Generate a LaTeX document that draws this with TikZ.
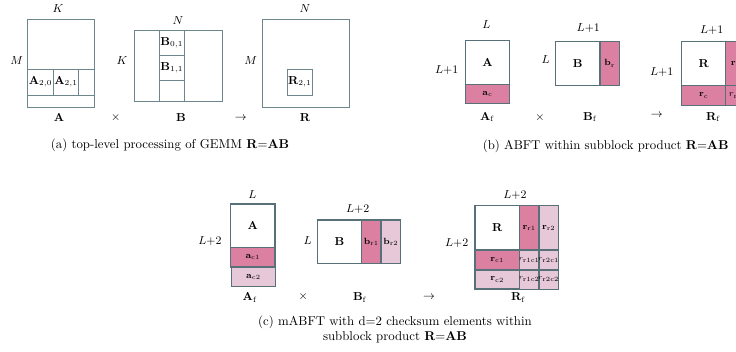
\documentclass[tikz,border=0pt]{standalone}
\usepackage{amssymb}
\usepackage{amsmath}
\definecolor{edge}{HTML}{587078}
\definecolor{edgelight}{HTML}{6C868C}
\definecolor{chkA}{HTML}{DB80A0}
\definecolor{chkB}{HTML}{E6C8D8}
\tikzset{
	blk/.style={draw=edge, line width=0.8pt},
	thinblk/.style={draw=edgelight, line width=0.6pt},
	chkone/.style={blk, fill=chkA},
	chktwo/.style={blk, fill=chkB},
	dimlbl/.style={font=\small, inner sep=1pt},
	cell/.style={font=\small, inner sep=1pt},
	smallcell/.style={font=\scriptsize, inner sep=0.5pt},
	tinycell/.style={font=\fontsize{4.5}{5}\selectfont, inner sep=0pt},
}

\begin{document}
\begin{tikzpicture}[x=0.78pt, y=-0.78pt]
		\useasboundingbox (0,0) rectangle (736,351);
		\clip (0,0) rectangle (736,351);
		% (a) top-level GEMM
		\draw[thinblk] (27.7,19) rectangle (94,107);
		\draw[thinblk] (27.7,69.3) -- (94,69.3);
		\draw[thinblk] (27.7,95) -- (94,95);
		\foreach \x in {53.3, 78.7}
			\draw[thinblk] (\x,69.3) -- (\x,95);
		\node[cell] (a20) at (40.5,82) {$\mathbf{A}_{2,0}$};
		\node[cell] (a21) at (66,82) {$\mathbf{A}_{2,1}$};
		\node[dimlbl] (aK) at (58,8.5) {$K$};
		\node[dimlbl] (aM) at (16.7,61) {$M$};
		\node[cell] (aA) at (59,118) {$\mathbf{A}$};
		\node[dimlbl] (atimes) at (115.7,118) {$\times$};

		\draw[thinblk] (134,30) rectangle (222,101);
		\foreach \x in {159.3, 184.3}
			\draw[thinblk] (\x,30) -- (\x,101);
		\foreach \y in {55, 80}
			\draw[thinblk] (159.3,\y) -- (184.3,\y);
		\node[cell] (b01) at (171.8,42.5) {$\mathbf{B}_{0,1}$};
		\node[cell] (b11) at (171.8,67.5) {$\mathbf{B}_{1,1}$};
		\node[dimlbl] (aN) at (178,20.7) {$N$};
		\node[dimlbl] (aKb) at (122,61) {$K$};
		\node[cell] (aB) at (181,118) {$\mathbf{B}$};
		\node[dimlbl] (ato) at (240.7,118) {$\rightarrow$};

		\draw[thinblk] (262.7,19.3) rectangle (349.3,107.3);
		\draw[thinblk] (287.3,69.3) rectangle (312.3,95);
		\node[cell] (r21) at (299.8,82) {$\mathbf{R}_{2,1}$};
		\node[dimlbl] (aNr) at (305,8.5) {$N$};
		\node[dimlbl] (aMr) at (250.7,61) {$M$};
		\node[cell] (aR) at (305,118) {$\mathbf{R}$};
		\node (capa) at (170,145) {(a) top-level processing of GEMM $\mathbf{R{=}AB}$};

		% (b) ABFT, one checksum
		\draw[blk] (465.7,40.7) rectangle (509.3,84.3);
		\draw[chkone] (465.7,84.3) rectangle (509.3,103.3);
		\node[cell] (bA) at (487.5,62.5) {$\mathbf{A}$};
		\node[smallcell] (bac) at (487.5,93.8) {$\mathbf{a}_\mathrm{c}$};
		\node[dimlbl] (bL) at (486.3,25) {$L$};
		\node[dimlbl] (bL1) at (446.7,70) {$L{+}1$};
		\node[cell] (bAf) at (487.3,117.3) {$\mathbf{A}_\mathrm{f}$};
		\node[dimlbl] (btimes) at (540,117.3) {$\times$};

		\draw[blk] (555.7,41.7) rectangle (600,85.3);
		\draw[chkone] (600,41.7) rectangle (619.3,85.3);
		\node[cell] (bB) at (577.8,63.5) {$\mathbf{B}$};
		\node[smallcell] (bbr) at (609.7,63.5) {$\mathbf{b}_\mathrm{r}$};
		\node[dimlbl] (bL1b) at (588.3,27.7) {$L{+}1$};
		\node[dimlbl] (bLb) at (545.7,60) {$L$};
		\node[cell] (bBf) at (590,117.3) {$\mathbf{B}_\mathrm{f}$};
		\node[dimlbl] (bto) at (656.7,115) {$\rightarrow$};

		\draw[blk] (681.7,41.7) rectangle (725.7,85.7);
		\draw[chkone] (725.7,41.7) rectangle (745,85.7);
		\draw[chkone] (681.7,85.7) rectangle (725.7,105.3);
		\draw[chkone] (725.7,85.7) rectangle (745,105.3);
		\node[cell] (bR) at (703.7,63.7) {$\mathbf{R}$};
		\node[smallcell] (brr) at (735.3,63.7) {$\mathbf{r}_\mathrm{r}$};
		\node[smallcell] (brc) at (703.7,95.5) {$\mathbf{r}_\mathrm{c}$};
		\node[smallcell] (brrc) at (735.3,95.5) {$r_\mathrm{rc}$};
		\node[dimlbl] (bL1r) at (711.7,30) {$L{+}1$};
		\node[dimlbl] (bL1l) at (661.7,71.7) {$L{+}1$};
		\node[cell] (bRf) at (713.3,117.3) {$\mathbf{R}_\mathrm{f}$};
		\node (capb) at (605.7,146.7) {(b) ABFT within subblock product $\mathbf{R{=}AB}$};

		% (c) mABFT, d=2 checksums
		\draw[blk] (230.7,204) rectangle (275,247.7);
		\draw[chkone] (230.7,247.7) rectangle (275,267);
		\draw[chktwo] (231.3,267) rectangle (275.7,286.7);
		\node[cell] (cA) at (252.8,225.8) {$\mathbf{A}$};
		\node[smallcell] (cac1) at (252.8,257.3) {$\mathbf{a}_\mathrm{c1}$};
		\node[smallcell] (cac2) at (253.5,276.8) {$\mathbf{a}_\mathrm{c2}$};
		\node[dimlbl] (cL) at (252.3,195) {$L$};
		\node[dimlbl] (cL2) at (210,241) {$L{+}2$};
		\node[cell] (cAf) at (250,297.7) {$\mathbf{A}_\mathrm{f}$};
		\node[dimlbl] (ctimes) at (303.3,297) {$\times$};

		\draw[blk] (317.3,220) rectangle (361.7,263.3);
		\draw[chkone] (361.7,220) rectangle (381,263.3);
		\draw[chktwo] (381,220) rectangle (400.7,263.3);
		\node[cell] (cB) at (339.5,241.6) {$\mathbf{B}$};
		\node[smallcell] (cbr1) at (371.3,241.6) {$\mathbf{b}_\mathrm{r1}$};
		\node[smallcell] (cbr2) at (390.8,241.6) {$\mathbf{b}_\mathrm{r2}$};
		\node[dimlbl] (cL2b) at (357.7,209.3) {$L{+}2$};
		\node[dimlbl] (cLb) at (307.7,241) {$L$};
		\node[cell] (cBf) at (360,297.7) {$\mathbf{B}_\mathrm{f}$};
		\node[dimlbl] (cto) at (429,297.7) {$\rightarrow$};

		\draw[blk] (475,205.7) rectangle (519.3,250);
		\draw[chkone] (519.3,205.7) rectangle (539,250);
		\draw[chktwo] (539,205.7) rectangle (558.3,250);
		\draw[chkone] (475,250) rectangle (519.3,270);
		\draw[chktwo] (475,270) rectangle (519.3,289);
		\foreach \x in {519.3, 539}
			\foreach \y in {250, 270}
				\draw[chktwo] (\x,\y) rectangle +(19.5,19.5);
		\node[cell] (cR) at (497.2,227.8) {$\mathbf{R}$};
		\node[smallcell] (crr1) at (529.2,227.8) {$\mathbf{r}_\mathrm{r1}$};
		\node[smallcell] (crr2) at (548.7,227.8) {$\mathbf{r}_\mathrm{r2}$};
		\node[smallcell] (crc1) at (497.2,260) {$\mathbf{r}_\mathrm{c1}$};
		\node[smallcell] (crc2) at (497.2,279.5) {$\mathbf{r}_\mathrm{c2}$};
		\node[tinycell] (crr1c1) at (529.2,260) {$r_\mathrm{r1c1}$};
		\node[tinycell] (crr2c1) at (548.7,260) {$r_\mathrm{r2c1}$};
		\node[tinycell] (crr1c2) at (529.2,279.5) {$r_\mathrm{r1c2}$};
		\node[tinycell] (crr2c2) at (548.7,279.5) {$r_\mathrm{r2c2}$};
		\node[dimlbl] (cL2r) at (515,195) {$L{+}2$};
		\node[dimlbl] (cL2l) at (456.7,242.7) {$L{+}2$};
		\node[cell] (cRf) at (518.3,297.7) {$\mathbf{R}_\mathrm{f}$};
		\node[align=center] (capc) at (395,329.7) {(c) mABFT with d=2 checksum elements within\\subblock product $\mathbf{R{=}AB}$};
	\end{tikzpicture}
\end{document}
